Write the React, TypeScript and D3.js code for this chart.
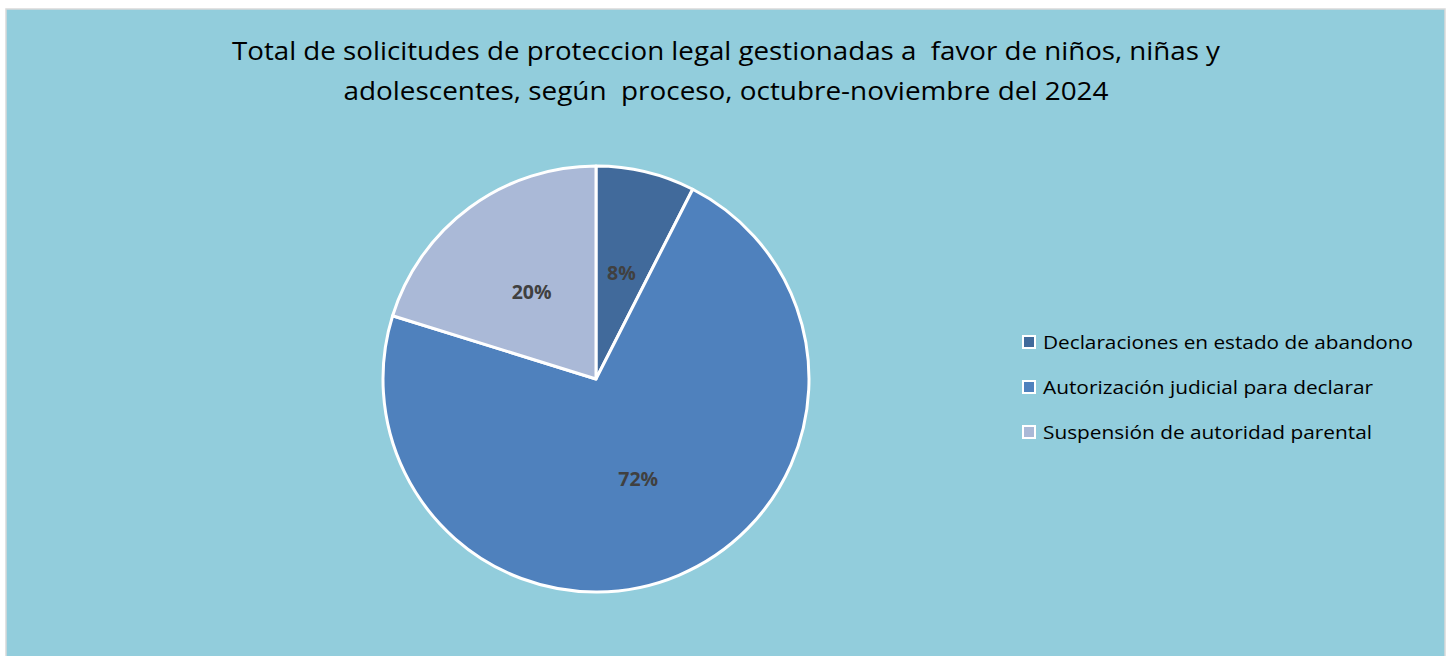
import { useEffect, useRef } from "react";
import * as d3 from "d3";

// data
const categories = [
	"Declaraciones en estado de abandono",
	"Autorización judicial para declarar",
	"Suspensión de autoridad parental",
];
const shares = [7.5, 72.3, 20.2];
const sliceColors = ["#416A9B", "#4F81BD", "#AAB9D7"];
const titleLines = [
	"Total de solicitudes de proteccion legal gestionadas a  favor de niños, niñas y",
	"adolescentes, según  proceso, octubre-noviembre del 2024",
];

const W = 1449;
const H = 656;
const FONT = "'Open Sans', 'Noto Sans', sans-serif";

function App() {
	const ref = useRef<SVGSVGElement>(null);

	useEffect(() => {
		const svg = d3.select(ref.current);
		svg.selectAll("*").remove();

		// chart area background + border
		svg
			.append("rect")
			.attr("x", 6)
			.attr("y", 9)
			.attr("width", 1439)
			.attr("height", H)
			.attr("fill", "#92CDDC")
			.attr("stroke", "#D9D9D9")
			.attr("stroke-width", 1.5);

		// title
		const titleWidths = [988, 765];
		svg
			.selectAll("text.title")
			.data(titleLines)
			.enter()
			.append("text")
			.attr("class", "title")
			.attr("x", 726)
			.attr("y", (d, i) => 60 + i * 40)
			.attr("text-anchor", "middle")
			.attr("font-family", FONT)
			.attr("font-size", 26)
			.attr("fill", "#000")
			.attr("textLength", (d, i) => titleWidths[i])
			.attr("lengthAdjust", "spacingAndGlyphs")
			.style("white-space", "pre")
			.text((d) => d);

		// pie
		const cx = 596;
		const cy = 379;
		const r = 213;
		const total = d3.sum(shares);
		const pie = d3
			.pie<number>()
			.sort(null)
			.value((d) => d);
		const arc = d3.arc<d3.PieArcDatum<number>>().innerRadius(0).outerRadius(r);
		const arcs = pie(shares);

		const g = svg.append("g").attr("transform", `translate(${cx},${cy})`);
		g.selectAll("path")
			.data(arcs)
			.enter()
			.append("path")
			.attr("d", arc)
			.attr("fill", (d, i) => sliceColors[i])
			.attr("stroke", "#fff")
			.attr("stroke-width", 3)
			.attr("stroke-linejoin", "round");

		g.selectAll("text.lbl")
			.data(arcs)
			.enter()
			.append("text")
			.attr("class", "lbl")
			.attr("transform", (d) => {
				const [x, y] = arc.centroid(d);
				return `translate(${x * 1.02},${y * 1.02})`;
			})
			.attr("text-anchor", "middle")
			.attr("dy", "0.36em")
			.attr("font-family", FONT)
			.attr("font-weight", "bold")
			.attr("font-size", 19.5)
			.attr("fill", "#404040")
			.text((d) => Math.round((d.value / total) * 100) + "%");

		// legend
		const lg = svg.append("g").attr("transform", "translate(1022,342)");
		const item = lg
			.selectAll("g")
			.data(categories)
			.enter()
			.append("g")
			.attr("transform", (d, i) => `translate(0,${i * 45})`);
		item
			.append("rect")
			.attr("x", 1)
			.attr("y", -6)
			.attr("width", 12)
			.attr("height", 12)
			.attr("fill", (d, i) => sliceColors[i])
			.attr("stroke", "#fff")
			.attr("stroke-width", 2);
		const legendWidths = [370, 330, 329];
		item
			.append("text")
			.attr("x", 21)
			.attr("y", 7)
			.attr("font-family", FONT)
			.attr("font-size", 19)
			.attr("fill", "#000")
			.attr("textLength", (d, i) => legendWidths[i])
			.attr("lengthAdjust", "spacingAndGlyphs")
			.text((d) => d);
	}, []);

	return (
		<div style={{ position: "fixed", left: 0, top: 0, width: W, height: H, background: "#fff" }}>
			<svg ref={ref} width={W} height={H} style={{ display: "block" }} />
		</div>
	);
}

export default App;
